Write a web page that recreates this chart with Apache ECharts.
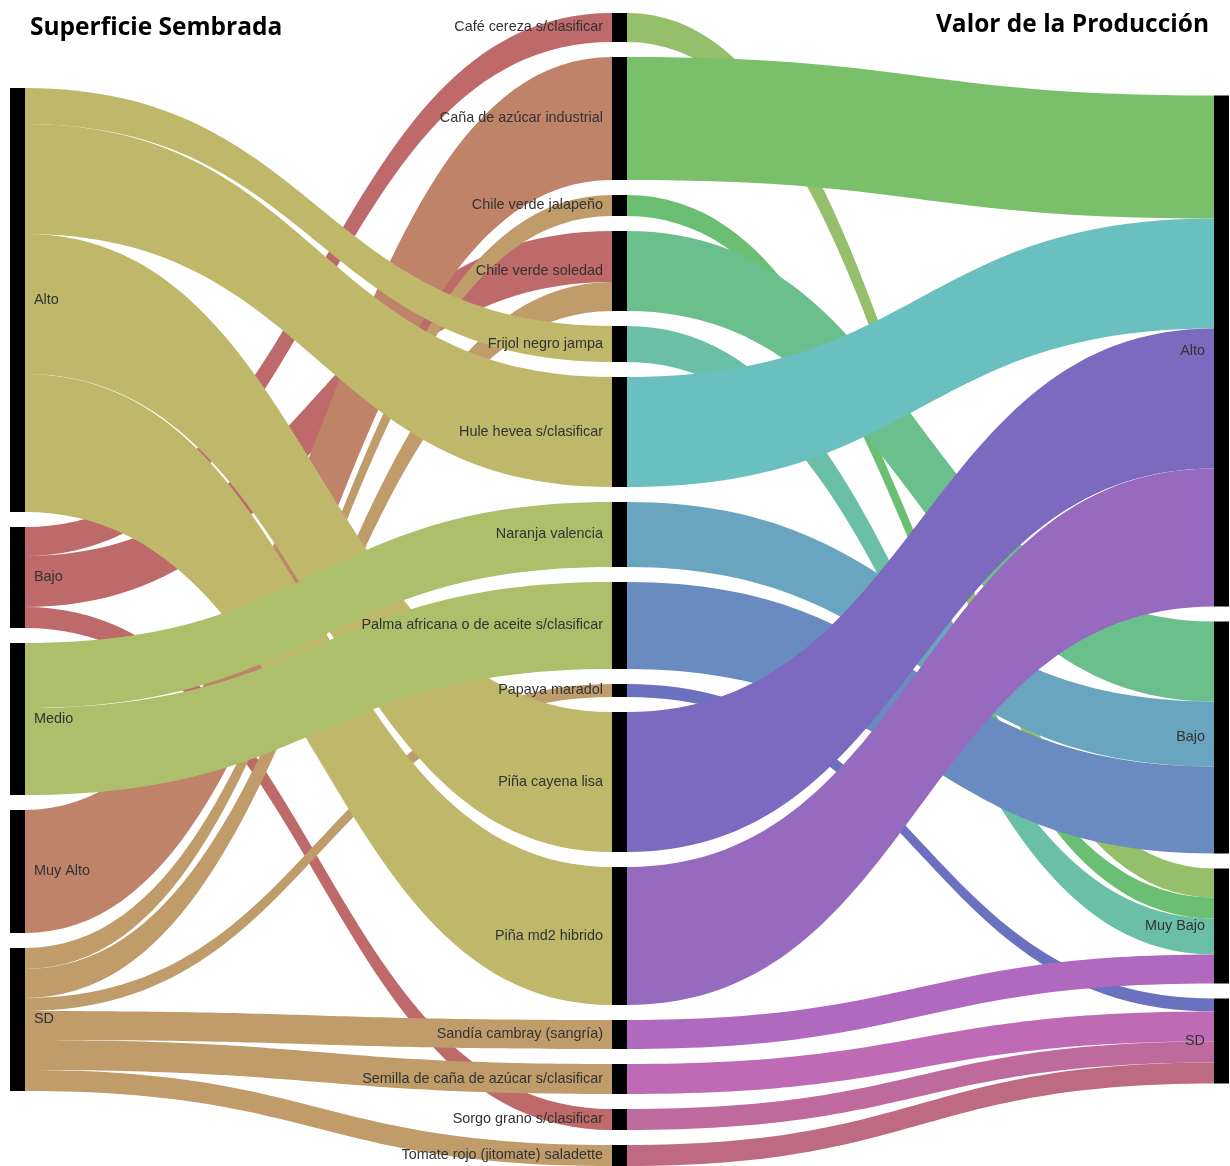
<!DOCTYPE html>
<html>
<head>
<meta charset="utf-8">
<script src="https://cdn.jsdelivr.net/npm/echarts@6/dist/echarts.min.js"></script>
<style>
html,body{margin:0;padding:0;background:#ffffff;}
#chart{width:1230px;height:1166px;}
</style>
</head>
<body>
<div id="chart"></div>
<script>
// ---- Data ----
const superficieNiveles = ['Alto', 'Bajo', 'Medio', 'Muy Alto', 'SD'];
const cultivos = [
  'Café cereza s/clasificar',
  'Caña de azúcar industrial',
  'Chile verde jalapeño',
  'Chile verde soledad',
  'Frijol negro jampa',
  'Hule hevea s/clasificar',
  'Naranja valencia',
  'Palma africana o de aceite s/clasificar',
  'Papaya maradol',
  'Piña cayena lisa',
  'Piña md2 hibrido',
  'Sandía cambray (sangría)',
  'Semilla de caña de azúcar s/clasificar',
  'Sorgo grano s/clasificar',
  'Tomate rojo (jitomate) saladette'
];
const valorNiveles = ['Alto', 'Bajo', 'Muy Bajo', 'SD'];

// Superficie Sembrada -> cultivo
const flujosSuperficie = [
  ['Bajo', 'Café cereza s/clasificar', 29],
  ['Bajo', 'Chile verde soledad', 51],
  ['Bajo', 'Sorgo grano s/clasificar', 21],
  ['Muy Alto', 'Caña de azúcar industrial', 123],
  ['SD', 'Chile verde jalapeño', 21],
  ['SD', 'Chile verde soledad', 29],
  ['SD', 'Papaya maradol', 13],
  ['SD', 'Sandía cambray (sangría)', 29],
  ['SD', 'Semilla de caña de azúcar s/clasificar', 30],
  ['SD', 'Tomate rojo (jitomate) saladette', 21],
  ['Alto', 'Frijol negro jampa', 36],
  ['Alto', 'Hule hevea s/clasificar', 110],
  ['Alto', 'Piña cayena lisa', 140],
  ['Alto', 'Piña md2 hibrido', 138],
  ['Medio', 'Naranja valencia', 65],
  ['Medio', 'Palma africana o de aceite s/clasificar', 87]
];

// cultivo -> Valor de la Producción
const flujosValor = [
  ['Café cereza s/clasificar', 'Muy Bajo', 29],
  ['Caña de azúcar industrial', 'Alto', 123],
  ['Chile verde jalapeño', 'Muy Bajo', 21],
  ['Chile verde soledad', 'Bajo', 80],
  ['Frijol negro jampa', 'Muy Bajo', 36],
  ['Hule hevea s/clasificar', 'Alto', 110],
  ['Naranja valencia', 'Bajo', 65],
  ['Palma africana o de aceite s/clasificar', 'Bajo', 87],
  ['Papaya maradol', 'SD', 13],
  ['Piña cayena lisa', 'Alto', 140],
  ['Piña md2 hibrido', 'Alto', 138],
  ['Sandía cambray (sangría)', 'Muy Bajo', 29],
  ['Semilla de caña de azúcar s/clasificar', 'SD', 30],
  ['Sorgo grano s/clasificar', 'SD', 21],
  ['Tomate rojo (jitomate) saladette', 'SD', 21]
];

// ---- Styles ----
const coloresSuperficie = {
  'Bajo': '#BF6A6A', 'Muy Alto': '#BF836A', 'SD': '#BF9C6A', 'Alto': '#BFB76A', 'Medio': '#ADBF6A'
};
const coloresCultivo = [
  '#95BF6A', '#7ABF6A', '#6ABF72', '#6ABF8C', '#6ABFA6', '#6ABFBF', '#6AA5BF', '#6A8BBF',
  '#6A71BF', '#7B6ABF', '#966ABF', '#AF6ABF', '#BF6AB5', '#BF6A9C', '#BF6A83'
];

const layoutCfg = { left: 10, right: 1, top: 13, bottom: 0, nodeWidth: 15, nodeGap: 15 };

const chart = echarts.init(document.getElementById('chart'), null, { renderer: 'canvas' });

const idS = n => 'S:' + n;
const idV = n => 'V:' + n;

// node values (sum of flows)
const nodeVal = {};
flujosSuperficie.forEach(([s, t, v]) => {
  nodeVal[idS(s)] = (nodeVal[idS(s)] || 0) + v;
  nodeVal[t] = (nodeVal[t] || 0) + v;
});
flujosValor.forEach(([s, t, v]) => {
  nodeVal[idV(t)] = (nodeVal[idV(t)] || 0) + v;
});

const columnas = [
  superficieNiveles.map(idS),
  cultivos.slice(),
  valorNiveles.map(idV)
];

// vertically center every column, as in the original layout
const areaH = chart.getHeight() - layoutCfg.top - layoutCfg.bottom;
let ky = Infinity;
columnas.forEach(col => {
  const sum = col.reduce((a, id) => a + nodeVal[id], 0);
  ky = Math.min(ky, (areaH - (col.length - 1) * layoutCfg.nodeGap) / sum);
});
const localY = {};
columnas.forEach(col => {
  const sum = col.reduce((a, id) => a + nodeVal[id], 0);
  const total = sum * ky + (col.length - 1) * layoutCfg.nodeGap;
  let y = (areaH - total) / 2;
  col.forEach(id => {
    localY[id] = y / areaH;
    y += nodeVal[id] * ky + layoutCfg.nodeGap;
  });
});

const nodes = [];
columnas.forEach((col, ci) => {
  col.forEach(id => {
    nodes.push({
      name: id,
      localY: localY[id],
      itemStyle: { color: '#000000', borderWidth: 0 },
      label: { position: ci === 0 ? 'right' : 'left' }
    });
  });
});

const links = [];
flujosSuperficie.forEach(([s, t, v]) => {
  links.push({ source: idS(s), target: t, value: v, lineStyle: { color: coloresSuperficie[s] } });
});
flujosValor.forEach(([s, t, v]) => {
  links.push({ source: s, target: idV(t), value: v, lineStyle: { color: coloresCultivo[cultivos.indexOf(s)] } });
});

chart.setOption({
  animation: false,
  backgroundColor: '#ffffff',
  title: [
    {
      text: 'Superficie Sembrada', left: 30, top: 16, padding: 0,
      textStyle: { fontFamily: 'Open Sans', fontWeight: 700, fontSize: 24.5, color: '#000000' }
    },
    {
      text: 'Valor de la Producción', right: 21, top: 13, padding: 0,
      textStyle: { fontFamily: 'Open Sans', fontWeight: 700, fontSize: 24.5, color: '#000000' }
    }
  ],
  series: [{
    type: 'sankey',
    left: layoutCfg.left, right: layoutCfg.right, top: layoutCfg.top, bottom: layoutCfg.bottom,
    nodeWidth: layoutCfg.nodeWidth,
    nodeGap: layoutCfg.nodeGap,
    layoutIterations: 0,
    draggable: false,
    silent: true,
    emphasis: { disabled: true },
    data: nodes,
    links: links,
    label: {
      show: true,
      distance: 9,
      color: '#333333',
      fontFamily: 'Liberation Sans',
      fontSize: 14.4,
      formatter: p => p.name.replace(/^[SV]:/, '')
    },
    lineStyle: { opacity: 1, curveness: 0.5 }
  }]
});
</script>
</body>
</html>
